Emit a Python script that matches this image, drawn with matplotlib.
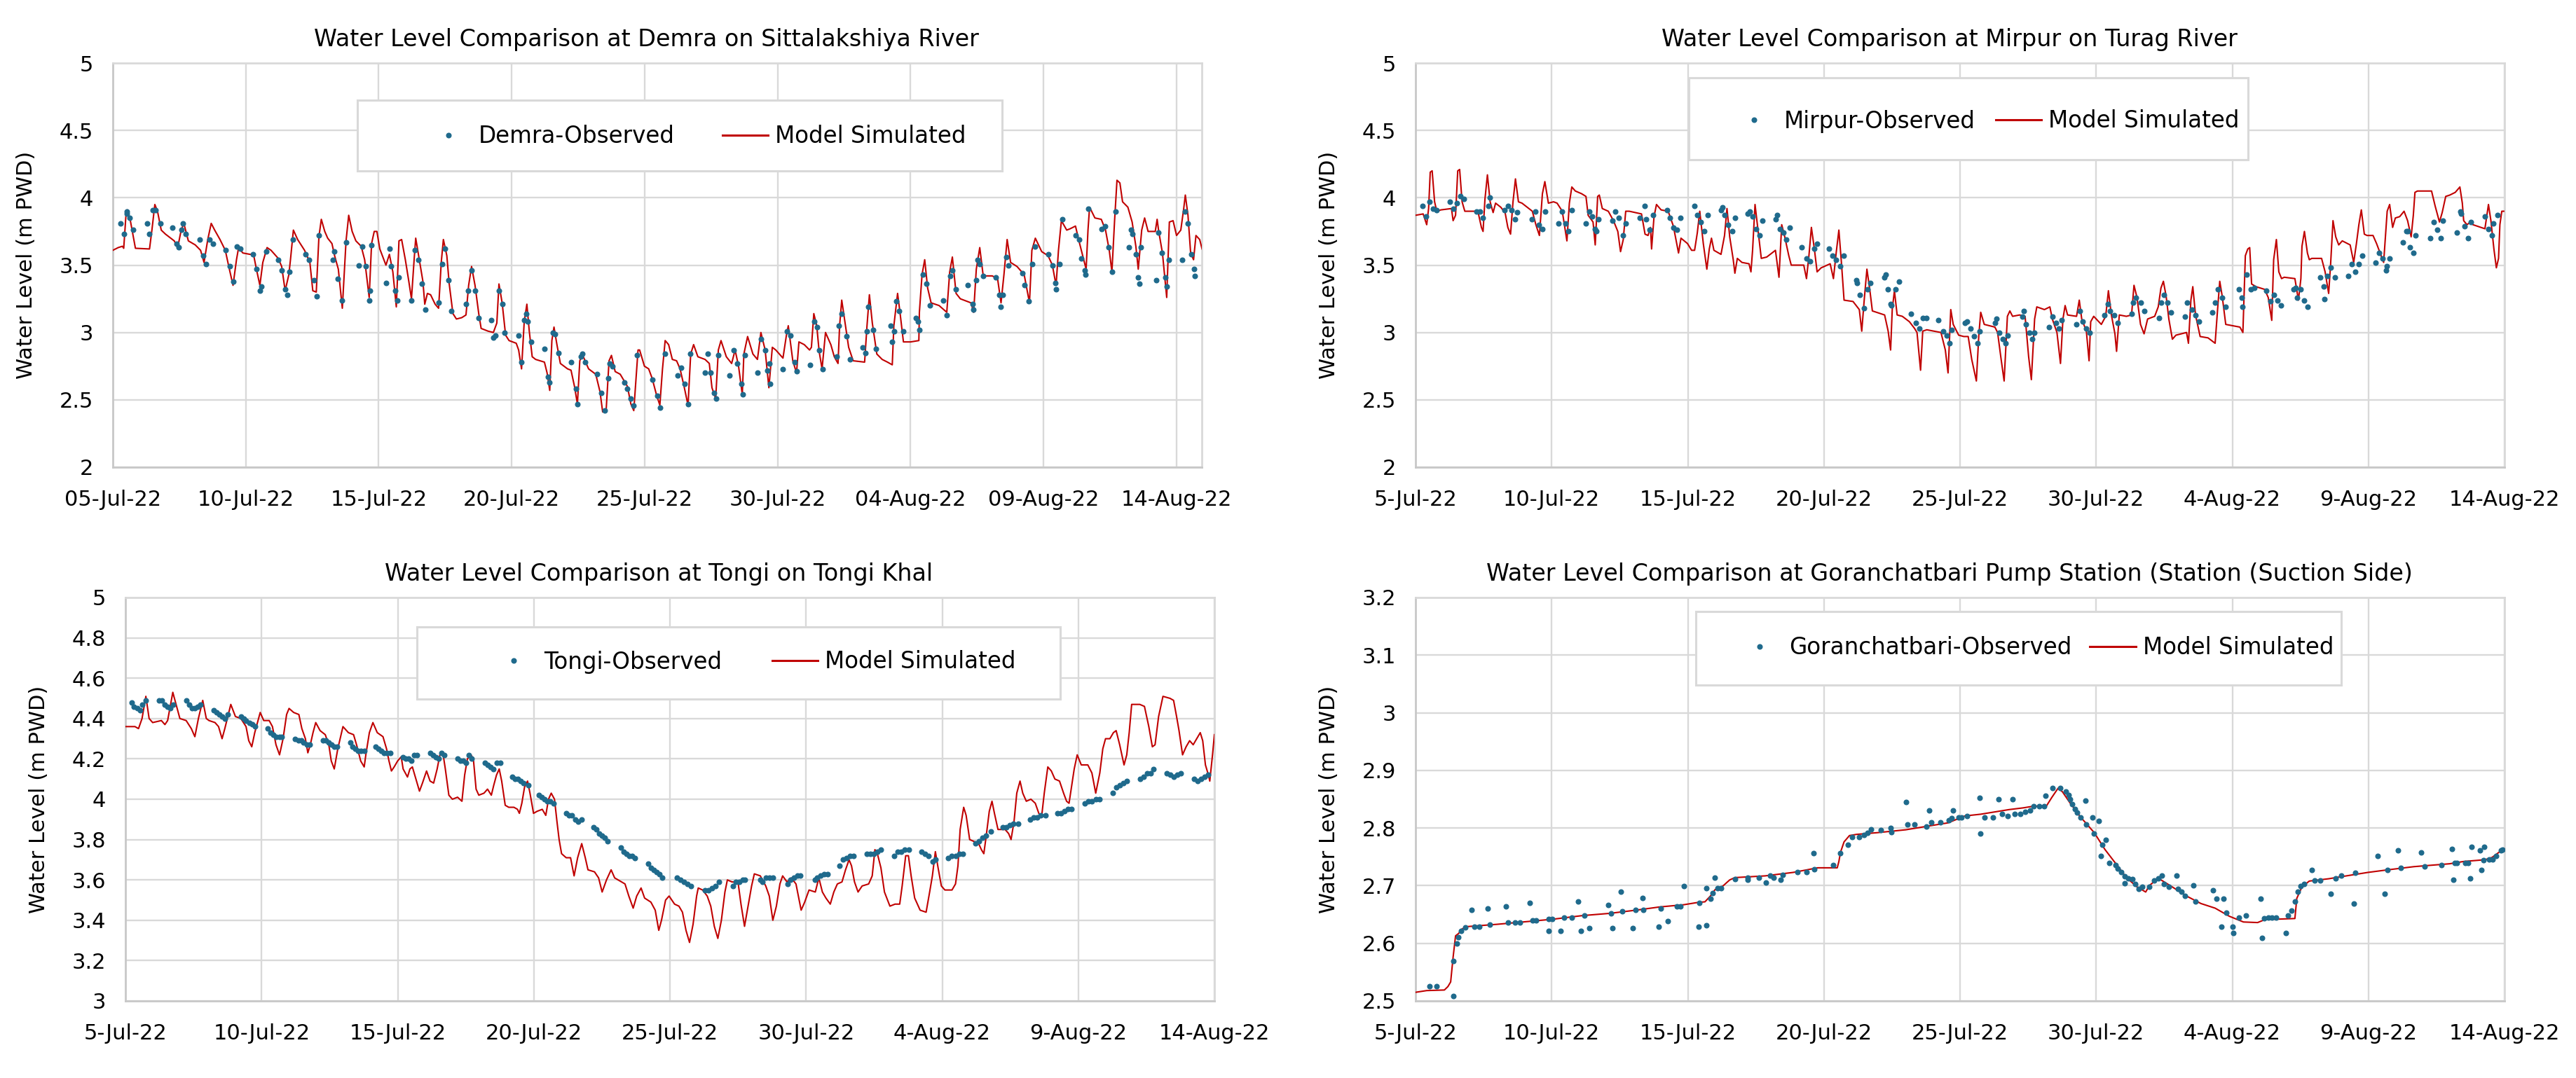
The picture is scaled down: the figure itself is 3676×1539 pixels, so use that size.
import datetime as dt
import numpy as np
import matplotlib
matplotlib.use("Agg")
import matplotlib.pyplot as plt
import matplotlib.dates as mdates
from matplotlib.lines import Line2D
from matplotlib.patches import Rectangle

plt.rcParams['font.family'] = ['DejaVu Sans']

START = dt.datetime(2022, 7, 5)

# ---------------- Demra (Sittalakshiya River) ----------------
demra_sim_day = [0, 0.2, 0.36, 0.41, 0.49, 0.54, 0.65, 0.85, 1.38, 1.47, 1.58, 1.68, 1.82, 1.98, 2.31, 2.44,
                 2.57, 2.67, 2.84, 3.1, 3.3, 3.43, 3.57, 3.7, 3.83, 4.03, 4.23, 4.36, 4.52, 4.65, 4.73, 4.89,
                 5.16, 5.29, 5.4, 5.53, 5.64, 5.8, 5.95, 6.22, 6.35, 6.48, 6.62, 6.68, 6.79, 6.95, 7.21, 7.41,
                 7.52, 7.65, 7.75, 7.84, 7.97, 8.08, 8.24, 8.34, 8.48, 8.63, 8.77, 8.87, 9.0, 9.14, 9.34, 9.47,
                 9.64, 9.73, 9.83, 9.93, 10.04, 10.27, 10.4, 10.53, 10.66, 10.76, 10.86, 11.0, 11.13, 11.23,
                 11.33, 11.39, 11.5, 11.66, 11.73, 11.83, 11.95, 12.12, 12.25, 12.35, 12.43, 12.56, 12.65,
                 12.79, 12.92, 13.12, 13.28, 13.38, 13.49, 13.62, 13.76, 13.85, 14.11, 14.31, 14.44, 14.52,
                 14.64, 14.77, 14.9, 15.17, 15.26, 15.37, 15.47, 15.57, 15.66, 15.77, 15.9, 16.23, 16.33,
                 16.43, 16.51, 16.59, 16.7, 16.83, 17.1, 17.23, 17.36, 17.47, 17.56, 17.65, 17.89, 18.16,
                 18.32, 18.42, 18.55, 18.66, 18.75, 18.89, 19.08, 19.35, 19.48, 19.59, 19.75, 19.81, 19.99,
                 20.15, 20.28, 20.44, 20.57, 20.67, 20.77, 20.9, 21.04, 21.2, 21.33, 21.47, 21.63, 21.73,
                 21.84, 22.0, 22.27, 22.43, 22.53, 22.67, 22.77, 22.87, 23.07, 23.27, 23.4, 23.53, 23.67,
                 23.73, 23.87, 24.07, 24.24, 24.37, 24.53, 24.67, 24.8, 24.93, 25.2, 25.33, 25.4, 25.57,
                 25.71, 25.8, 26.0, 26.2, 26.27, 26.36, 26.47, 26.56, 26.67, 26.8, 27.0, 27.13, 27.27, 27.33,
                 27.41, 27.53, 27.67, 27.84, 28.27, 28.36, 28.45, 28.56, 28.73, 28.93, 29.13, 29.31, 29.37,
                 29.51, 29.6, 29.73, 30.0, 30.31, 30.33, 30.43, 30.53, 30.64, 30.77, 31.07, 31.36, 31.47,
                 31.57, 31.71, 31.87, 32.27, 32.37, 32.47, 32.6, 32.73, 33.07, 33.27, 33.4, 33.51, 33.63,
                 33.76, 34.0, 34.27, 34.47, 34.56, 34.69, 34.93, 35.17, 35.33, 35.47, 35.56, 35.67, 35.87,
                 36.0, 36.2, 36.33, 36.47, 36.6, 36.67, 36.73, 36.93, 37.17, 37.33, 37.47, 37.57, 37.67,
                 37.76, 37.87, 37.97, 38.17, 38.33, 38.47, 38.56, 38.69, 38.8, 38.93, 39.2, 39.27, 39.33,
                 39.47, 39.63, 39.73, 39.87, 40.0, 40.16, 40.27, 40.33, 40.43, 40.53, 40.64, 40.73, 40.87,
                 40.96]
demra_sim_wl = [3.61, 3.63, 3.64, 3.625, 3.86, 3.91, 3.84, 3.625, 3.62, 3.76, 3.95, 3.90, 3.76, 3.73, 3.68, 3.63,
                3.76, 3.81, 3.68, 3.65, 3.61, 3.52, 3.69, 3.81, 3.76, 3.69, 3.61, 3.49, 3.35, 3.54, 3.63, 3.59,
                3.58, 3.58, 3.47, 3.35, 3.52, 3.63, 3.61, 3.55, 3.49, 3.31, 3.43, 3.54, 3.76, 3.69, 3.61, 3.52,
                3.31, 3.30, 3.71, 3.84, 3.75, 3.70, 3.66, 3.57, 3.47, 3.18, 3.68, 3.87, 3.75, 3.68, 3.64, 3.54,
                3.26, 3.66, 3.75, 3.75, 3.62, 3.50, 3.58, 3.45, 3.19, 3.68, 3.69, 3.54, 3.38, 3.25,
                3.54, 3.70, 3.57, 3.38, 3.21, 3.29, 3.28, 3.21, 3.18, 3.52, 3.69, 3.57, 3.36,
                3.14, 3.10, 3.11, 3.13, 3.35, 3.49, 3.35, 3.14, 3.03, 3.01, 3.00, 3.07, 3.36,
                3.22, 2.98, 2.94, 2.92, 2.87, 2.73, 3.08, 3.21, 3.01, 2.82, 2.80, 2.78, 2.70,
                2.57, 2.94, 3.04, 2.91, 2.77, 2.73, 2.72, 2.60, 2.47, 2.79, 2.84, 2.73, 2.69,
                2.56, 2.41, 2.42, 2.79, 2.83, 2.71, 2.69, 2.60, 2.47, 2.42, 2.87, 2.87, 2.75,
                2.73, 2.66, 2.54, 2.46, 2.73, 2.94, 2.91, 2.80, 2.79, 2.73, 2.61, 2.46, 2.84,
                2.91, 2.82, 2.80, 2.77, 2.59, 2.51, 2.87, 2.94, 2.82, 2.77, 2.87, 2.75, 2.54,
                2.84, 2.97, 2.84, 2.80, 3.00, 2.87, 2.59, 2.89, 2.87, 2.81, 2.98, 3.05, 2.79,
                2.70, 2.93, 2.91, 2.87, 2.89, 3.14, 3.05, 2.86, 2.73, 3.00, 2.91, 2.82, 2.77, 3.05,
                3.24, 3.08, 2.89, 2.79, 2.78, 3.05, 3.28, 3.07, 2.84, 2.80, 2.78, 2.76, 3.05,
                3.29, 3.15, 2.93, 2.93, 2.94, 3.15, 3.43, 3.54, 3.33, 3.22, 3.20, 3.15, 3.45,
                3.56, 3.29, 3.25, 3.22, 3.15, 3.47, 3.63, 3.42, 3.42, 3.40, 3.22, 3.43, 3.69,
                3.52, 3.49, 3.43, 3.22, 3.61, 3.70, 3.60, 3.57, 3.50, 3.35, 3.61, 3.83, 3.76,
                3.77, 3.79, 3.68, 3.57, 3.47, 3.76, 3.93, 3.85, 3.84, 3.76, 3.61, 3.45, 3.83,
                4.13, 4.11, 3.97, 3.93, 3.82, 3.64, 3.47, 3.76, 3.85, 3.75, 3.75, 3.84, 3.75,
                3.59, 3.26, 3.82, 3.83, 3.72, 3.76, 3.92, 4.02, 3.87, 3.59, 3.54, 3.72, 3.69,
                3.62]
demra_obs_day = [0.28, 0.41, 0.52, 0.54, 0.62, 0.76, 1.29, 1.38, 1.51, 1.60, 1.79, 2.24, 2.41, 2.48, 2.57, 2.64,
                 2.75, 3.28, 3.41, 3.50, 3.63, 3.77, 4.23, 4.39, 4.52, 4.66, 4.79, 5.27, 5.40, 5.53, 5.58,
                 5.76, 6.22, 6.35, 6.49, 6.56, 6.64, 6.78, 7.25, 7.39, 7.55, 7.68, 7.75, 8.28, 8.34, 8.47,
                 8.63, 8.77, 9.24, 9.38, 9.51, 9.64, 9.67, 9.73, 10.27, 10.40, 10.46, 10.62, 10.70, 10.76,
                 11.23, 11.35, 11.50, 11.63, 11.74, 12.25, 12.39, 12.48, 12.61, 12.72, 13.28, 13.36, 13.49,
                 13.62, 13.75, 14.24, 14.31, 14.38, 14.51, 14.64, 14.73, 15.27, 15.35, 15.48, 15.54, 15.61,
                 15.74, 16.23, 16.37, 16.43, 16.54, 16.63, 16.76, 17.23, 17.43, 17.47, 17.60, 17.65, 17.76,
                 18.22, 18.36, 18.49, 18.62, 18.69, 18.79, 19.24, 19.35, 19.48, 19.59, 19.72, 20.28, 20.48,
                 20.57, 20.77, 21.23, 21.36, 21.51, 21.63, 21.71, 22.27, 22.37, 22.47, 22.6, 22.69, 22.76,
                 23.2, 23.36, 23.49, 23.63, 23.69, 23.76, 24.24, 24.37, 24.53, 24.6, 24.69, 24.73, 25.2,
                 25.36, 25.47, 25.63, 25.71, 26.23, 26.37, 26.48, 26.56, 26.69, 27.23, 27.31, 27.4, 27.6,
                 27.73, 28.2, 28.29, 28.35, 28.4, 28.6, 28.69, 29.24, 29.31, 29.37, 29.47, 29.57, 29.73,
                 30.2, 30.29, 30.33, 30.47, 30.6, 30.73, 31.23, 31.36, 31.49, 31.57, 31.71, 32.16, 32.33,
                 32.37, 32.47, 32.53, 32.6, 32.73, 33.2, 33.33, 33.4, 33.47, 33.6, 33.67, 34.2, 34.29,
                 34.43, 34.56, 34.67, 35.17, 35.33, 35.44, 35.47, 35.6, 35.71, 36.2, 36.33, 36.43, 36.56,
                 36.58, 36.69, 37.17, 37.31, 37.44, 37.57, 37.71, 38.2, 38.29, 38.33, 38.47, 38.56, 38.6,
                 38.67, 39.23, 39.31, 39.44, 39.57, 39.63, 39.71, 40.2, 40.33, 40.43, 40.56, 40.67, 40.69]
demra_obs_wl = [3.81, 3.73, 3.90, 3.88, 3.85, 3.76, 3.81, 3.73, 3.91, 3.91, 3.81, 3.78, 3.66, 3.63, 3.76, 3.81,
                3.73, 3.69, 3.57, 3.51, 3.69, 3.66, 3.61, 3.49, 3.38, 3.64, 3.62, 3.58, 3.47, 3.31, 3.34,
                3.60, 3.54, 3.46, 3.32, 3.28, 3.45, 3.69, 3.58, 3.54, 3.39, 3.27, 3.72, 3.54, 3.60, 3.40,
                3.24, 3.67, 3.50, 3.64, 3.49, 3.24, 3.31, 3.65, 3.37, 3.62, 3.49, 3.31, 3.24, 3.41,
                3.24, 3.61, 3.54, 3.36, 3.17, 3.22, 3.51, 3.62, 3.39, 3.16, 3.21, 3.31, 3.46,
                3.31, 3.11, 3.09, 2.96, 2.98, 3.31, 3.21, 3.00, 2.98, 2.78, 3.09, 3.14, 3.08,
                2.93, 2.88, 2.67, 2.63, 3.00, 2.99, 2.85, 2.78, 2.58, 2.47, 2.82, 2.84, 2.78,
                2.69, 2.55, 2.42, 2.66, 2.77, 2.75, 2.63, 2.58, 2.51, 2.46, 2.83, 2.65, 2.53,
                2.44, 2.84, 2.68, 2.74, 2.62, 2.47, 2.84, 2.70, 2.84, 2.70, 2.55, 2.51, 2.83,
                2.68, 2.87, 2.77, 2.62, 2.54, 2.83, 2.70, 2.95, 2.87, 2.72, 2.77, 2.62, 2.73,
                3.01, 2.98, 2.78, 2.71, 2.76, 3.08, 3.04, 2.87, 2.73, 2.82, 3.05, 3.14, 2.97,
                2.80, 2.89, 2.85, 3.01, 3.19, 3.02, 2.88, 3.05, 2.93, 3.01, 3.23, 3.16, 3.01,
                3.11, 3.08, 3.02, 3.43, 3.36, 3.20, 3.24, 3.13, 3.42, 3.46, 3.32, 3.35, 3.21,
                3.17, 3.39, 3.54, 3.51, 3.42, 3.41, 3.28, 3.19, 3.28, 3.56, 3.50, 3.44, 3.35,
                3.23, 3.51, 3.64, 3.58, 3.50, 3.37, 3.32, 3.51, 3.84, 3.72, 3.69, 3.55, 3.46,
                3.43, 3.92, 3.77, 3.79, 3.63, 3.45, 3.90, 3.63, 3.76, 3.73, 3.58, 3.41, 3.36,
                3.63, 3.39, 3.74, 3.59, 3.41, 3.34, 3.54, 3.54, 3.90, 3.81, 3.58, 3.47, 3.42]

# ---------------- Mirpur (Turag River) ----------------
mirpur_sim_day = [0, 0.28, 0.41, 0.48, 0.54, 0.61, 0.70, 0.78, 0.93, 1.32, 1.38, 1.47, 1.55, 1.62, 1.71, 1.81,
                  2.29, 2.42, 2.48, 2.55, 2.64, 2.74, 2.85, 2.94, 3.13, 3.29, 3.39, 3.49, 3.58, 3.67, 3.78,
                  3.91, 4.29, 4.42, 4.55, 4.66, 4.75, 4.88, 5.07, 5.20, 5.39, 5.56, 5.65, 5.74, 5.87, 6.1,
                  6.26, 6.34, 6.52, 6.6, 6.69, 6.75, 6.86, 7.08, 7.27, 7.43, 7.53, 7.63, 7.72, 7.85, 8.3,
                  8.43, 8.54, 8.63, 8.67, 8.76, 8.85, 9.02, 9.28, 9.47, 9.66, 9.75, 9.99, 10.14, 10.25,
                  10.35, 10.44, 10.57, 10.70, 10.79, 10.87, 10.96, 11.22, 11.35, 11.44, 11.54, 11.67, 11.73,
                  11.82, 11.99, 12.25, 12.32, 12.38, 12.47, 12.58, 12.70, 12.9, 13.22, 13.35, 13.45, 13.54,
                  13.71, 13.8, 14.26, 14.36, 14.45, 14.54, 14.65, 14.75, 14.9, 15.23, 15.35, 15.45, 15.55,
                  15.65, 15.74, 16.07, 16.3, 16.39, 16.48, 16.58, 16.69, 16.78, 17.23, 17.36, 17.45, 17.51,
                  17.59, 17.69, 17.88, 18.14, 18.33, 18.42, 18.55, 18.63, 18.78, 19.04, 19.3, 19.46, 19.56,
                  19.66, 19.75, 19.95, 20.14, 20.3, 20.43, 20.6, 20.69, 20.76, 20.89, 21.28, 21.38, 21.51,
                  21.62, 21.74, 21.83, 21.93, 22.19, 22.39, 22.52, 22.62, 22.74, 22.82, 23.1, 23.3, 23.39,
                  23.56, 23.69, 23.78, 23.86, 23.95, 24.28, 24.38, 24.47, 24.64, 24.74, 24.8, 24.91, 25.19,
                  25.35, 25.45, 25.56, 25.69, 25.75, 25.85, 26.11, 26.3, 26.39, 26.5, 26.63, 26.76, 26.89,
                  27.15, 27.28, 27.38, 27.47, 27.57, 27.67, 27.8, 27.93, 28.32, 28.39, 28.48, 28.55, 28.65,
                  28.82, 29.11, 29.37, 29.46, 29.54, 29.63, 29.76, 30.02, 30.28, 30.39, 30.48, 30.57, 30.64,
                  30.71, 30.87, 31.19, 31.32, 31.45, 31.52, 31.62, 31.71, 31.81, 31.91, 32.3, 32.43, 32.52,
                  32.56, 32.65, 32.76, 32.83, 32.92, 33.28, 33.41, 33.54, 33.61, 33.7, 33.8, 33.91, 34.04,
                  34.33, 34.46, 34.56, 34.65, 34.74, 34.85, 34.95, 35.17, 35.3, 35.43, 35.56, 35.69, 35.78,
                  35.89, 35.99, 36.15, 36.31, 36.44, 36.57, 36.65, 36.71, 36.8, 37.32, 37.45, 37.61, 37.71,
                  37.84, 37.99, 38.19, 38.36, 38.45, 38.5, 38.62, 38.75, 38.84, 39.28, 39.41, 39.5, 39.61,
                  39.7, 39.78, 39.83, 39.9, 40.0]
mirpur_sim_wl = [3.87, 3.88, 3.80, 3.92, 4.19, 4.20, 3.97, 3.90, 3.91, 3.92, 3.83, 3.87, 4.20, 4.21, 3.97, 3.90,
                 3.90, 3.78, 3.75, 3.99, 4.17, 3.97, 3.89, 3.96, 3.93, 3.89, 3.78, 3.73, 3.97, 4.14, 3.97,
                 3.96, 3.90, 3.80, 3.72, 4.03, 4.12, 3.96, 3.97, 3.96, 3.90, 3.68, 3.96, 4.08, 4.05, 4.03,
                 4.01, 3.87, 3.82, 3.65, 4.01, 4.02, 3.92, 3.90, 3.83, 3.75, 3.60, 3.69, 3.90, 3.90, 3.88,
                 3.73, 3.72, 3.78, 3.62, 3.86, 3.95, 3.91, 3.90, 3.79, 3.59, 3.70, 3.66, 3.61, 3.61,
                 3.74, 3.90, 3.66, 3.47, 3.62, 3.70, 3.61, 3.58, 3.72, 3.92, 3.71, 3.54, 3.44,
                 3.55, 3.52, 3.51, 3.45, 3.61, 3.95, 3.76, 3.55, 3.56, 3.61, 3.41, 3.80, 3.73,
                 3.57, 3.50, 3.50, 3.40, 3.57, 3.78, 3.62, 3.45, 3.48, 3.51, 3.40, 3.59, 3.76,
                 3.50, 3.24, 3.23, 3.17, 3.01, 3.24, 3.47, 3.31, 3.16, 3.13, 3.01, 2.87, 3.17,
                 3.31, 3.13, 3.12, 3.08, 3.03, 3.00, 2.72, 3.01, 3.02, 3.01, 3.00, 2.87, 2.70,
                 3.17, 3.06, 2.98, 2.97, 2.97, 2.80, 2.64, 2.98, 3.15, 3.06, 3.04, 3.00, 2.80,
                 2.64, 3.12, 3.16, 3.12, 3.13, 3.12, 2.82, 2.65, 3.10, 3.19, 3.17, 3.19, 3.10,
                 3.00, 2.77, 3.10, 3.20, 3.13, 3.12, 3.24, 3.10, 3.01, 2.79, 3.08, 3.12, 3.06,
                 3.12, 3.31, 3.13, 2.99, 2.86, 3.13, 3.12, 3.13, 3.35, 3.26, 3.06, 2.99, 3.10,
                 3.12, 3.19, 3.33, 3.38, 3.27, 3.10, 2.95, 2.98, 3.00, 2.92, 3.24, 3.34, 3.13,
                 2.97, 2.96, 2.92, 3.17, 3.38, 3.27, 3.06, 3.05, 3.04, 3.00, 3.57, 3.62, 3.63,
                 3.36, 3.34, 3.32, 3.26, 3.09, 3.54, 3.69, 3.45, 3.40, 3.41, 3.40, 3.24, 3.40,
                 3.64, 3.75, 3.59, 3.54, 3.55, 3.55, 3.45, 3.29, 3.50, 3.83, 3.71, 3.65, 3.68,
                 3.65, 3.52, 3.66, 3.80, 3.91, 3.73, 3.72, 3.72, 3.66, 3.59, 3.52, 3.90, 3.95,
                 3.78, 3.85, 3.86, 3.90, 3.83, 3.71, 3.87, 4.04, 4.05, 4.05, 3.94, 3.82, 3.89,
                 4.01, 4.02, 4.04, 4.08, 3.96, 3.83, 3.80, 3.82, 3.80, 3.77, 3.95, 3.83, 3.62,
                 3.48, 3.55, 3.80, 3.90, 3.90]
mirpur_obs_day = [0.26, 0.39, 0.52, 0.65, 0.78, 1.25, 1.38, 1.51, 1.64, 1.77, 2.25, 2.38, 2.48, 2.68, 2.72, 3.26,
                  3.39, 3.52, 3.65, 3.73, 4.27, 4.4, 4.53, 4.66, 4.75, 5.26, 5.39, 5.52, 5.61, 5.74, 6.26,
                  6.39, 6.49, 6.6, 6.65, 6.73, 7.24, 7.34, 7.46, 7.63, 7.72, 8.24, 8.41, 8.46, 8.59, 8.73,
                  9.24, 9.34, 9.47, 9.6, 9.73, 10.25, 10.35, 10.48, 10.61, 10.74, 11.22, 11.28, 11.35, 11.47,
                  11.64, 11.73, 12.19, 12.29, 12.38, 12.51, 12.64, 12.73, 13.22, 13.29, 13.38, 13.51, 13.61,
                  13.74, 14.19, 14.36, 14.49, 14.65, 14.75, 15.19, 15.32, 15.45, 15.61, 15.74, 16.2, 16.22,
                  16.33, 16.48, 16.61, 16.71, 17.21, 17.26, 17.36, 17.46, 17.48, 17.62, 17.75, 18.2, 18.37,
                  18.5, 18.63, 18.76, 19.2, 19.37, 19.5, 19.62, 19.69, 20.18, 20.26, 20.39, 20.52, 20.65,
                  20.73, 21.28, 21.34, 21.44, 21.57, 21.67, 21.74, 22.3, 22.35, 22.43, 22.56, 22.65, 22.74,
                  23.26, 23.39, 23.52, 23.63, 23.73, 24.28, 24.41, 24.51, 24.64, 24.77, 25.3, 25.43, 25.52,
                  25.65, 25.78, 26.3, 26.37, 26.47, 26.63, 26.76, 27.31, 27.38, 27.48, 27.61, 27.75, 28.26,
                  28.35, 28.52, 28.65, 28.78, 29.26, 29.37, 29.47, 29.63, 29.76, 30.25, 30.36, 30.38, 30.52,
                  30.67, 30.8, 31.26, 31.39, 31.52, 31.65, 31.78, 32.24, 32.34, 32.39, 32.52, 32.63, 32.76,
                  33.23, 33.36, 33.38, 33.49, 33.62, 33.78, 34.26, 34.39, 34.52, 34.65, 34.78, 35.26, 35.39,
                  35.52, 35.66, 35.68, 35.79, 36.26, 36.39, 36.44, 36.52, 36.65, 36.74, 37.26, 37.39, 37.52,
                  37.65, 37.74, 38.26, 38.39, 38.41, 38.53, 38.66, 38.76, 39.28, 39.4, 39.53, 39.6, 39.74]
mirpur_obs_wl = [3.94, 3.86, 3.97, 3.92, 3.91, 3.97, 3.92, 3.96, 4.01, 3.99, 3.90, 3.90, 3.85, 3.94, 4.00, 3.91,
                 3.94, 3.91, 3.84, 3.89, 3.84, 3.90, 3.80, 3.77, 3.90, 3.81, 3.90, 3.81, 3.75, 3.91, 3.81,
                 3.90, 3.86, 3.77, 3.75, 3.84, 3.83, 3.90, 3.85, 3.72, 3.81, 3.85, 3.94, 3.84, 3.76, 3.87,
                 3.91, 3.85, 3.78, 3.76, 3.85, 3.94, 3.87, 3.82, 3.75, 3.87, 3.91, 3.93, 3.87, 3.80,
                 3.75, 3.85, 3.88, 3.90, 3.86, 3.77, 3.72, 3.83, 3.84, 3.87, 3.77, 3.74, 3.69,
                 3.78, 3.63, 3.55, 3.53, 3.62, 3.66, 3.62, 3.57, 3.54, 3.49, 3.57, 3.39, 3.37,
                 3.28, 3.18, 3.32, 3.37, 3.41, 3.43, 3.32, 3.21, 3.20, 3.32, 3.38, 3.14, 3.07,
                 3.03, 3.11, 3.11, 3.09, 3.01, 2.98, 2.92, 3.02, 3.07, 3.08, 3.03, 2.97, 2.92,
                 3.01, 3.07, 3.10, 3.00, 2.95, 2.92, 2.98, 3.12, 3.16, 3.06, 3.00, 2.95, 3.00,
                 3.04, 3.12, 3.07, 3.03, 3.09, 3.06, 3.16, 3.08, 3.03, 3.00, 3.13, 3.21, 3.16,
                 3.13, 3.07, 3.14, 3.22, 3.26, 3.22, 3.16, 3.11, 3.22, 3.28, 3.22, 3.15, 3.12,
                 3.22, 3.17, 3.13, 3.08, 3.15, 3.22, 3.32, 3.26, 3.19, 3.32, 3.26, 3.19, 3.43,
                 3.32, 3.33, 3.31, 3.23, 3.28, 3.24, 3.20, 3.32, 3.33, 3.26, 3.32, 3.24, 3.19,
                 3.41, 3.34, 3.25, 3.42, 3.48, 3.41, 3.42, 3.51, 3.45, 3.51, 3.57, 3.52, 3.59,
                 3.55, 3.46, 3.49, 3.55, 3.67, 3.75, 3.75, 3.63, 3.59, 3.72, 3.70, 3.82, 3.76,
                 3.70, 3.83, 3.74, 3.90, 3.88, 3.79, 3.70, 3.82, 3.86, 3.77, 3.72, 3.81, 3.87]

# ---------------- Tongi (Tongi Khal) ----------------
tongi_sim_day = [0, 0.35, 0.48, 0.61, 0.75, 0.87, 1.0, 1.32, 1.45, 1.55, 1.74, 2.0, 2.23, 2.42, 2.55, 2.68, 2.84,
                 2.97, 3.07, 3.29, 3.42, 3.55, 3.65, 3.87, 4.04, 4.24, 4.43, 4.53, 4.64, 4.75, 4.95, 5.08,
                 5.28, 5.4, 5.53, 5.66, 5.79, 5.92, 6.01, 6.18, 6.37, 6.48, 6.61, 6.7, 6.79, 6.89, 6.99,
                 7.15, 7.34, 7.47, 7.56, 7.67, 7.8, 7.99, 8.19, 8.38, 8.51, 8.64, 8.77, 8.83, 8.96, 9.09,
                 9.25, 9.46, 9.59, 9.68, 9.77, 9.87, 10.0, 10.13, 10.2, 10.36, 10.45, 10.54, 10.67, 10.8,
                 10.91, 11.06, 11.19, 11.32, 11.45, 11.55, 11.66, 11.75, 11.88, 12.01, 12.2, 12.36, 12.46,
                 12.56, 12.69, 12.78, 12.88, 12.98, 13.17, 13.3, 13.44, 13.53, 13.63, 13.73, 13.82, 13.95,
                 14.08, 14.27, 14.4, 14.47, 14.56, 14.66, 14.77, 14.86, 14.99, 15.12, 15.31, 15.44, 15.54,
                 15.64, 15.76, 15.85, 15.93, 16.02, 16.19, 16.35, 16.48, 16.61, 16.76, 16.89, 16.99, 17.23,
                 17.38, 17.51, 17.67, 17.84, 17.97, 18.22, 18.35, 18.49, 18.65, 18.78, 18.94, 19.07, 19.3,
                 19.46, 19.59, 19.69, 19.84, 19.97, 20.17, 20.33, 20.46, 20.59, 20.72, 20.85, 20.98, 21.04,
                 21.2, 21.37, 21.5, 21.63, 21.76, 21.89, 22.02, 22.11, 22.28, 22.5, 22.61, 22.74, 22.87,
                 23.0, 23.1, 23.32, 23.52, 23.65, 23.78, 23.91, 24.04, 24.14, 24.3, 24.46, 24.63, 24.82,
                 24.95, 25.11, 25.34, 25.47, 25.6, 25.73, 25.89, 26.02, 26.15, 26.32, 26.45, 26.58, 26.67,
                 26.78, 26.91, 27.06, 27.3, 27.43, 27.53, 27.62, 27.75, 27.88, 28.08, 28.27, 28.44, 28.53,
                 28.66, 28.76, 28.86, 28.99, 29.19, 29.41, 29.54, 29.64, 29.75, 29.85, 29.97, 30.1, 30.36,
                 30.49, 30.58, 30.66, 30.79, 30.88, 31.01, 31.18, 31.34, 31.44, 31.53, 31.62, 31.73, 31.83,
                 31.92, 32.05, 32.31, 32.44, 32.53, 32.64, 32.74, 32.86, 32.96, 33.09, 33.26, 33.42, 33.55,
                 33.65, 33.75, 33.88, 34.01, 34.14, 34.31, 34.46, 34.57, 34.66, 34.75, 34.85, 34.96, 35.11,
                 35.35, 35.5, 35.64, 35.79, 35.9, 36.0, 36.16, 36.29, 36.39, 36.52, 36.68, 36.78, 36.87,
                 36.96, 37.07, 37.26, 37.43, 37.59, 37.72, 37.82, 37.95, 38.11, 38.37, 38.5, 38.61, 38.7,
                 38.83, 38.96, 39.09, 39.22, 39.48, 39.57, 39.67, 39.78, 39.83, 39.93, 40.0]
tongi_sim_wl = [4.36, 4.36, 4.35, 4.40, 4.51, 4.40, 4.38, 4.39, 4.37, 4.39, 4.53, 4.40, 4.39, 4.35, 4.31, 4.40, 4.49,
                4.40, 4.39, 4.38, 4.36, 4.30, 4.35, 4.47, 4.41, 4.40, 4.36, 4.29, 4.26, 4.33, 4.43, 4.39,
                4.39, 4.36, 4.27, 4.22, 4.30, 4.42, 4.45, 4.43, 4.42, 4.35, 4.30, 4.23, 4.27, 4.33, 4.38,
                4.34, 4.32, 4.27, 4.19, 4.15, 4.25, 4.36, 4.33, 4.32, 4.26, 4.19, 4.16, 4.22, 4.33, 4.38,
                4.33, 4.31, 4.25, 4.19, 4.14, 4.16, 4.19, 4.21, 4.15, 4.11, 4.15, 4.16, 4.10, 4.04,
                4.08, 4.14, 4.09, 4.08, 4.15, 4.22, 4.23, 4.15, 4.02, 4.00, 4.01, 3.99, 4.12,
                4.20, 4.22, 4.20, 4.05, 4.02, 4.03, 4.05, 4.02, 4.07, 4.12, 4.15, 4.09, 3.97,
                3.96, 3.96, 3.95, 3.93, 3.98, 4.06, 4.09, 4.03, 3.93, 3.94, 3.95, 3.92, 4.00,
                4.03, 4.00, 3.89, 3.80, 3.73, 3.71, 3.71, 3.62, 3.71, 3.78, 3.71, 3.65, 3.64,
                3.61, 3.54, 3.60, 3.65, 3.61, 3.59, 3.58, 3.52, 3.46, 3.52, 3.56, 3.51, 3.49,
                3.45, 3.35, 3.40, 3.50, 3.52, 3.48, 3.47, 3.44, 3.35, 3.29, 3.38, 3.52, 3.56,
                3.55, 3.52, 3.47, 3.37, 3.31, 3.40, 3.54, 3.60, 3.59, 3.59, 3.48, 3.37, 3.47,
                3.57, 3.63, 3.62, 3.57, 3.52, 3.40, 3.47, 3.58, 3.62, 3.59, 3.61, 3.58, 3.45,
                3.49, 3.55, 3.54, 3.61, 3.54, 3.51, 3.48, 3.54, 3.58, 3.59, 3.65, 3.70, 3.67,
                3.59, 3.54, 3.57, 3.58, 3.62, 3.75, 3.73, 3.66, 3.54, 3.47, 3.48, 3.48, 3.57,
                3.72, 3.72, 3.62, 3.51, 3.45, 3.44, 3.54, 3.62, 3.74, 3.66, 3.57, 3.55, 3.55,
                3.58, 3.67, 3.85, 3.96, 3.92, 3.80, 3.79, 3.78, 3.75, 3.73, 3.82, 3.94, 3.99,
                3.93, 3.85, 3.85, 3.83, 3.80, 3.89, 4.03, 4.09, 4.03, 3.99, 4.00, 3.98, 3.93,
                3.91, 4.03, 4.16, 4.14, 4.10, 4.09, 4.03, 3.99, 3.98, 4.06, 4.15, 4.22, 4.17,
                4.17, 4.13, 4.03, 4.13, 4.25, 4.30, 4.30, 4.33, 4.34, 4.27, 4.17, 4.22, 4.33,
                4.47, 4.47, 4.47, 4.46, 4.36, 4.26, 4.27, 4.41, 4.51, 4.50, 4.49, 4.41, 4.34,
                4.22, 4.26, 4.29, 4.27, 4.33, 4.29, 4.17, 4.12, 4.09, 4.22, 4.32]
tongi_obs_day = [0.22, 0.32, 0.43, 0.53, 0.63, 0.74, 1.23, 1.33, 1.44, 1.54, 1.64, 1.75, 2.23, 2.33, 2.44, 2.54,
                 2.64, 2.75, 3.24, 3.34, 3.45, 3.55, 3.65, 3.76, 4.24, 4.34, 4.44, 4.55, 4.65, 4.75, 5.23,
                 5.34, 5.44, 5.54, 5.65, 5.75, 6.24, 6.35, 6.45, 6.55, 6.66, 6.76, 7.25, 7.36, 7.46, 7.56,
                 7.67, 7.77, 8.25, 8.34, 8.45, 8.55, 8.65, 8.78, 9.2, 9.3, 9.4, 9.51, 9.61, 9.74, 10.2,
                 10.3, 10.4, 10.5, 10.61, 10.71, 11.2, 11.3, 11.4, 11.5, 11.61, 11.71, 12.2, 12.3, 12.41,
                 12.51, 12.62, 12.72, 13.21, 13.32, 13.42, 13.52, 13.63, 13.76, 14.21, 14.31, 14.42, 14.52,
                 14.62, 14.79, 15.18, 15.28, 15.39, 15.49, 15.59, 15.72, 16.19, 16.3, 16.4, 16.53, 16.63,
                 16.76, 17.19, 17.29, 17.4, 17.5, 17.6, 17.71, 18.2, 18.3, 18.41, 18.51, 18.61, 18.72,
                 19.2, 19.3, 19.4, 19.51, 19.61, 19.72, 20.26, 20.39, 20.52, 20.65, 20.76, 21.28, 21.41,
                 21.54, 21.67, 21.8, 22.32, 22.41, 22.54, 22.67, 22.76, 23.32, 23.41, 23.52, 23.65, 23.78,
                 24.33, 24.43, 24.56, 24.69, 24.79, 25.32, 25.41, 25.54, 25.67, 25.8, 26.23, 26.36, 26.49,
                 26.62, 26.75, 27.23, 27.36, 27.49, 27.62, 27.75, 28.23, 28.36, 28.5, 28.63, 28.79, 29.25,
                 29.38, 29.51, 29.64, 29.75, 30.23, 30.36, 30.49, 30.62, 30.75, 31.23, 31.34, 31.47, 31.6,
                 31.79, 32.22, 32.35, 32.48, 32.61, 32.79, 33.22, 33.35, 33.49, 33.62, 33.79, 34.23, 34.36,
                 34.49, 34.62, 34.75, 35.24, 35.37, 35.5, 35.64, 35.77, 36.26, 36.39, 36.52, 36.65, 36.78,
                 37.26, 37.39, 37.52, 37.65, 37.75, 38.24, 38.37, 38.5, 38.63, 38.76, 39.26, 39.39, 39.52,
                 39.65, 39.78]
tongi_obs_wl = [4.48, 4.46, 4.45, 4.44, 4.47, 4.49, 4.49, 4.49, 4.47, 4.46, 4.45, 4.47, 4.49, 4.47, 4.45, 4.45,
                4.46, 4.47, 4.44, 4.43, 4.42, 4.41, 4.40, 4.42, 4.41, 4.40, 4.39, 4.38, 4.37, 4.36, 4.35,
                4.33, 4.32, 4.31, 4.31, 4.31, 4.30, 4.29, 4.29, 4.28, 4.27, 4.27, 4.29, 4.29, 4.28, 4.27,
                4.26, 4.26, 4.28, 4.26, 4.25, 4.24, 4.24, 4.24, 4.26, 4.25, 4.24, 4.23, 4.23, 4.23, 4.21,
                4.20, 4.20, 4.19, 4.22, 4.22, 4.23, 4.22, 4.21, 4.20, 4.23, 4.22, 4.20, 4.19, 4.19,
                4.18, 4.22, 4.20, 4.18, 4.17, 4.16, 4.15, 4.18, 4.18, 4.11, 4.10, 4.10, 4.09,
                4.08, 4.07, 4.02, 4.01, 4.00, 3.99, 3.99, 3.98, 3.93, 3.92, 3.92, 3.90, 3.89,
                3.90, 3.86, 3.85, 3.83, 3.82, 3.81, 3.79, 3.76, 3.74, 3.73, 3.72, 3.72, 3.71,
                3.68, 3.66, 3.65, 3.64, 3.63, 3.61, 3.61, 3.60, 3.59, 3.58, 3.57, 3.55, 3.55,
                3.56, 3.57, 3.59, 3.57, 3.59, 3.59, 3.60, 3.60, 3.60, 3.59, 3.61, 3.61, 3.61,
                3.58, 3.60, 3.61, 3.62, 3.62, 3.60, 3.61, 3.62, 3.63, 3.63, 3.67, 3.70, 3.71,
                3.72, 3.72, 3.73, 3.73, 3.73, 3.74, 3.75, 3.72, 3.74, 3.74, 3.75, 3.75, 3.74,
                3.73, 3.72, 3.69, 3.70, 3.71, 3.72, 3.72, 3.73, 3.73, 3.78, 3.79, 3.81, 3.82,
                3.84, 3.86, 3.86, 3.87, 3.88, 3.88, 3.90, 3.91, 3.91, 3.92, 3.92, 3.93, 3.93,
                3.94, 3.95, 3.95, 3.98, 3.99, 3.99, 4.00, 4.00, 4.03, 4.06, 4.07, 4.08, 4.09,
                4.10, 4.11, 4.13, 4.13, 4.15, 4.13, 4.12, 4.11, 4.12, 4.13, 4.10, 4.09, 4.10,
                4.11, 4.12]

# ---------------- Goranchatbari Pump Station ----------------
gor_sim_day = [0, 0.41, 1.06, 1.19, 1.29, 1.38, 1.47, 1.58, 1.71, 1.9, 3.0, 4.17, 5.08, 6.11, 7.14, 8.18, 8.95,
               9.86, 10.38, 10.63, 10.83, 11.0, 11.28, 11.54, 11.73, 12.84, 13.87, 14.77, 15.49, 15.55, 15.61,
               15.74, 15.94, 16.2, 16.97, 18.01, 18.78, 19.56, 20.18, 20.76, 21.28, 21.8, 22.32, 22.71, 23.17,
               23.37, 23.6, 23.76, 24.02, 24.41, 24.93, 25.32, 25.71, 26.11, 26.5, 26.82, 26.95, 27.28, 27.79,
               28.32, 28.85, 29.37, 29.89, 30.41, 30.93, 31.19, 31.72, 32.3, 32.37, 32.56, 32.83, 33.54, 34.32,
               34.98, 35.63, 36.67, 37.19, 37.98, 38.5, 39.28, 39.54, 40.0]
gor_sim_wl = [2.515, 2.518, 2.519, 2.525, 2.533, 2.576, 2.613, 2.617, 2.625, 2.629, 2.633, 2.638, 2.642, 2.648,
              2.652, 2.658, 2.663, 2.667, 2.671, 2.672, 2.682, 2.693, 2.699, 2.710, 2.714, 2.717, 2.723, 2.731,
              2.731, 2.742, 2.758, 2.776, 2.787, 2.789, 2.792, 2.797, 2.803, 2.809, 2.821, 2.824, 2.828, 2.832,
              2.835, 2.838, 2.838, 2.853, 2.869, 2.863, 2.845, 2.820, 2.792, 2.763, 2.739, 2.714, 2.698, 2.689,
              2.700, 2.713, 2.698, 2.682, 2.669, 2.661, 2.647, 2.637, 2.636, 2.641, 2.642, 2.643, 2.678, 2.698,
              2.708, 2.712, 2.718, 2.723, 2.727, 2.733, 2.735, 2.738, 2.742, 2.745, 2.749, 2.765]
gor_obs_day = [0.52, 0.78, 1.38, 1.38, 1.51, 1.58, 1.68, 1.84, 2.07, 2.16, 2.33, 2.65, 2.74, 3.32, 3.39, 3.65,
               3.84, 4.2, 4.29, 4.42, 4.88, 4.9, 5.01, 5.33, 5.46, 5.74, 5.98, 6.07, 6.2, 6.39, 7.09, 7.18, 7.24,
               7.53, 7.59, 7.98, 8.07, 8.33, 8.37, 8.93, 9.02, 9.26, 9.6, 9.73, 9.86, 10.4, 10.42, 10.67, 10.69,
               10.83, 10.92, 11.0, 11.09, 11.22, 11.73, 12.19, 12.21, 12.61, 12.87, 13.03, 13.16, 13.42, 13.48,
               14.02, 14.36, 14.62, 14.64, 15.33, 15.59, 15.87, 16.04, 16.3, 16.48, 16.61, 16.74, 17.08, 17.46,
               17.48, 18.01, 18.07, 18.33, 18.76, 18.87, 18.94, 19.27, 19.59, 19.69, 19.75, 19.95, 20.04, 20.26,
               20.73, 20.75, 20.91, 21.21, 21.41, 21.54, 21.74, 21.93, 22.0, 22.22, 22.39, 22.58, 22.71, 22.91,
               23.08, 23.13, 23.39, 23.69, 23.89, 23.99, 24.04, 24.12, 24.21, 24.31, 24.44, 24.61, 24.63, 24.87,
               24.91, 25.09, 25.17, 25.22, 25.35, 25.48, 25.71, 25.78, 25.91, 26.04, 26.06, 26.17, 26.34, 26.43,
               26.56, 26.69, 26.95, 27.12, 27.28, 27.41, 27.48, 27.67, 27.96, 28.0, 28.13, 28.26, 28.56, 28.65,
               29.3, 29.43, 29.59, 29.69, 29.78, 30.02, 30.05, 30.25, 30.51, 31.04, 31.09, 31.17, 31.32, 31.46,
               31.62, 31.98, 32.04, 32.17, 32.3, 32.4, 32.5, 32.63, 32.92, 33.02, 33.22, 33.61, 33.8, 34.0, 34.46,
               34.52, 35.34, 35.6, 35.69, 36.09, 36.18, 36.93, 37.06, 37.69, 38.08, 38.13, 38.17, 38.26, 38.56,
               38.65, 38.73, 38.8, 39.09, 39.15, 39.22, 39.26, 39.44, 39.57, 39.7, 39.87, 39.93]
gor_obs_wl = [2.525, 2.525, 2.509, 2.569, 2.600, 2.611, 2.622, 2.627, 2.658, 2.629, 2.629, 2.661, 2.633, 2.664,
              2.636, 2.636, 2.636, 2.670, 2.640, 2.640, 2.622, 2.642, 2.642, 2.622, 2.645, 2.645, 2.673, 2.622,
              2.648, 2.626, 2.667, 2.652, 2.626, 2.689, 2.655, 2.626, 2.658, 2.679, 2.658, 2.629, 2.661, 2.638,
              2.664, 2.664, 2.699, 2.629, 2.670, 2.696, 2.631, 2.678, 2.687, 2.714, 2.696, 2.696, 2.711, 2.714,
              2.710, 2.714, 2.705, 2.718, 2.714, 2.710, 2.719, 2.724, 2.724, 2.756, 2.728, 2.736, 2.756, 2.771,
              2.784, 2.784, 2.788, 2.792, 2.798, 2.797, 2.800, 2.793, 2.845, 2.806, 2.806, 2.803, 2.831, 2.810,
              2.810, 2.813, 2.817, 2.831, 2.819, 2.818, 2.821, 2.853, 2.790, 2.818, 2.818, 2.850, 2.824, 2.821,
              2.850, 2.824, 2.824, 2.828, 2.831, 2.838, 2.838, 2.838, 2.856, 2.869, 2.869, 2.863, 2.857, 2.850,
              2.841, 2.833, 2.827, 2.818, 2.847, 2.806, 2.818, 2.790, 2.812, 2.752, 2.771, 2.780, 2.740, 2.736,
              2.730, 2.724, 2.704, 2.716, 2.713, 2.711, 2.703, 2.694, 2.698, 2.698, 2.709, 2.713, 2.718, 2.703,
              2.698, 2.718, 2.695, 2.690, 2.682, 2.701, 2.673, 2.692, 2.678, 2.629, 2.678, 2.653, 2.629, 2.618,
              2.645, 2.648, 2.678, 2.609, 2.643, 2.645, 2.645, 2.645, 2.618, 2.648, 2.657, 2.673, 2.689, 2.699,
              2.703, 2.727, 2.709, 2.709, 2.686, 2.713, 2.718, 2.669, 2.722, 2.752, 2.686, 2.727, 2.761, 2.731,
              2.758, 2.733, 2.736, 2.764, 2.710, 2.739, 2.739, 2.739, 2.739, 2.713, 2.767, 2.761, 2.727, 2.744,
              2.767, 2.746, 2.746, 2.752, 2.761, 2.763]

# ---------------- panel definitions ----------------
tick_labels_a = ["05-Jul-22", "10-Jul-22", "15-Jul-22", "20-Jul-22", "25-Jul-22", "30-Jul-22",
                 "04-Aug-22", "09-Aug-22", "14-Aug-22"]
tick_labels_b = ["5-Jul-22", "10-Jul-22", "15-Jul-22", "20-Jul-22", "25-Jul-22", "30-Jul-22",
                 "4-Aug-22", "9-Aug-22", "14-Aug-22"]
tick_days = [0, 5, 10, 15, 20, 25, 30, 35, 40]

panels = [
    dict(title="Water Level Comparison at Demra on Sittalakshiya River", obs_label="Demra-Observed",
         sd=demra_sim_day, sw=demra_sim_wl, od=demra_obs_day, ow=demra_obs_wl,
         rect=(161, 90, 1715, 667), ylim=(2, 5), yt=[2, 2.5, 3, 3.5, 4, 4.5, 5],
         ytl=["2", "2.5", "3", "3.5", "4", "4.5", "5"], xl=tick_labels_a, xmax=40.95,
         box=(510, 143, 1430, 244), leg=(993, 195), colsp=2.1),
    dict(title="Water Level Comparison at Mirpur on Turag River", obs_label="Mirpur-Observed",
         sd=mirpur_sim_day, sw=mirpur_sim_wl, od=mirpur_obs_day, ow=mirpur_obs_wl,
         rect=(2020, 90, 3574, 667), ylim=(2, 5), yt=[2, 2.5, 3, 3.5, 4, 4.5, 5],
         ytl=["2", "2.5", "3", "3.5", "4", "4.5", "5"], xl=tick_labels_b, xmax=40.0,
         box=(2410, 111, 3208, 228), leg=(2833, 173), colsp=0.9),
    dict(title="Water Level Comparison at Tongi on Tongi Khal", obs_label="Tongi-Observed",
         sd=tongi_sim_day, sw=tongi_sim_wl, od=tongi_obs_day, ow=tongi_obs_wl,
         rect=(179, 853, 1733, 1429), ylim=(3, 5), yt=[3, 3.2, 3.4, 3.6, 3.8, 4, 4.2, 4.4, 4.6, 4.8, 5],
         ytl=["3", "3.2", "3.4", "3.6", "3.8", "4", "4.2", "4.4", "4.6", "4.8", "5"], xl=tick_labels_b,
         xmax=40.0, box=(595, 895, 1513, 998), leg=(1075, 945), colsp=2.2),
    dict(title="Water Level Comparison at Goranchatbari Pump Station (Station (Suction Side)",
         obs_label="Goranchatbari-Observed",
         sd=gor_sim_day, sw=gor_sim_wl, od=gor_obs_day, ow=gor_obs_wl,
         rect=(2020, 853, 3574, 1429), ylim=(2.5, 3.2), yt=[2.5, 2.6, 2.7, 2.8, 2.9, 3.0, 3.1, 3.2],
         ytl=["2.5", "2.6", "2.7", "2.8", "2.9", "3", "3.1", "3.2"], xl=tick_labels_b, xmax=40.0,
         box=(2420, 873, 3341, 978), leg=(2904, 925), colsp=0.8),
]

W, H = 3676, 1539
fig = plt.figure(figsize=(W / 100, H / 100), dpi=100)
fig.patch.set_facecolor("white")

OBS_C = "#1F6A8C"
SIM_C = "#C00000"
GRID_C = "#D9D9D9"
base = mdates.date2num(START)

for p in panels:
    l, t, r, b = p["rect"]
    ax = fig.add_axes([l / W, 1 - b / H, (r - l) / W, (b - t) / H])
    sd = base + np.asarray(p["sd"])
    od = base + np.asarray(p["od"])
    ax.plot(sd, p["sw"], color=SIM_C, lw=1.5, zorder=3, solid_joinstyle="round")
    ax.plot(od, p["ow"], linestyle="none", marker="o", ms=4.8, color=OBS_C, mec=OBS_C, zorder=4)
    ax.set_xlim(base, base + p["xmax"])
    ax.set_ylim(*p["ylim"])
    ax.set_xticks(base + np.asarray(tick_days))
    ax.set_xticklabels(p["xl"])
    ax.set_yticks(p["yt"])
    ax.set_yticklabels(p["ytl"])
    ax.tick_params(axis="both", length=0, labelsize=22, colors="#000000")
    ax.tick_params(axis="x", pad=23)
    ax.tick_params(axis="y", pad=20)
    ax.grid(True, color=GRID_C, lw=1.7, zorder=0)
    ax.set_axisbelow(True)
    for side, sp in ax.spines.items():
        sp.set_color("#C8C8C8" if side in ("left", "bottom") else GRID_C)
        sp.set_linewidth(2.0)
    ax.set_ylabel("Water Level (m PWD)", fontsize=22)
    ax.yaxis.set_label_coords(-0.07, 0.5)
    ax.set_title(p["title"], fontsize=24, pad=17, x=0.49)

    # legend box
    bl, bt, br, bb = p["box"]
    fig.patches.append(Rectangle((bl / W, 1 - bb / H), (br - bl) / W, (bb - bt) / H,
                                 transform=fig.transFigure, facecolor="white",
                                 edgecolor=GRID_C, lw=2.2, zorder=5))
    handles = [Line2D([], [], linestyle="none", marker="o", ms=4.8, color=OBS_C),
               Line2D([], [], color=SIM_C, lw=2.2)]
    lx, ly = p["leg"]
    leg = fig.legend(handles, [p["obs_label"], "Model Simulated"], loc="center",
                     bbox_to_anchor=(lx / W, 1 - ly / H), ncol=2, frameon=False,
                     fontsize=23.5, handlelength=2.0, handletextpad=0.3,
                     columnspacing=p["colsp"])
    leg.set_zorder(6)

fig.savefig("out.png", dpi=100, facecolor="white")
